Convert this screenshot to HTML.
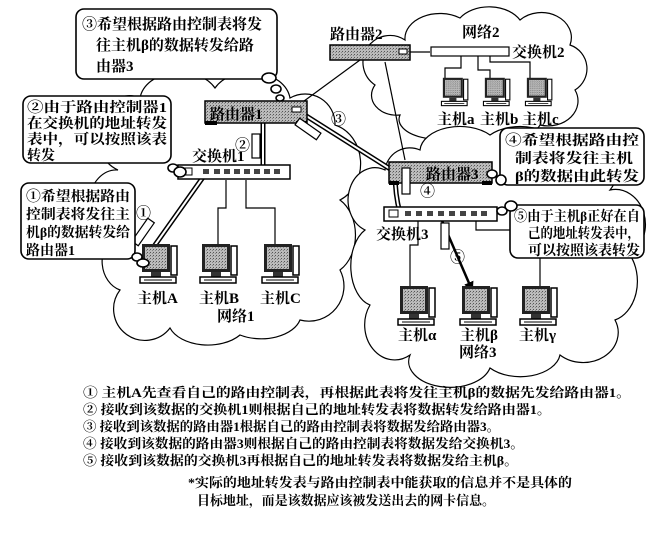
<!DOCTYPE html>
<html><head><meta charset="utf-8"><style>
html,body{margin:0;padding:0;background:#fff}
svg{display:block}
text{font-family:"Liberation Serif","Noto Serif CJK SC","Noto Sans CJK SC",serif;font-weight:bold;fill:#000}
</style></head><body>
<svg width="663" height="533" viewBox="0 0 663 533" xmlns="http://www.w3.org/2000/svg">
<defs>
<pattern id="dots" width="3" height="3" patternUnits="userSpaceOnUse"><rect width="3" height="3" fill="#bbb"/><rect width="1" height="1" fill="#555"/><rect x="2" y="1" width="1" height="1" fill="#888"/></pattern>
<symbol id="pc" viewBox="0 0 42 46" width="42" height="46">
<rect x="4" y="1" width="28" height="28" fill="#222"/>
<rect x="7" y="4" width="22" height="22" fill="url(#dots)"/>
<rect x="33" y="3" width="6" height="29" fill="#fff" stroke="#000" stroke-width="1.5"/>
<rect x="13" y="29" width="10" height="5" fill="#333"/>
<rect x="2" y="34" width="36" height="6" fill="#fff" stroke="#000" stroke-width="1.5"/>
<line x1="6" y1="37" x2="34" y2="37" stroke="#000"/>
</symbol>
<marker id="ah" markerWidth="10" markerHeight="10" refX="8" refY="5" orient="auto" markerUnits="userSpaceOnUse"><path d="M0,0 L10,5 L0,10z" fill="#000"/></marker>
</defs>

<g fill="#fff" stroke="#000" stroke-width="1.2">
<path d="M140,98 A40,30 0 0 1 215,88 A40,30 0 0 1 290,98 A30,30 0 0 1 335,125 A35,40 0 0 1 340,200 A30,40 0 0 1 340,270 A35,35 0 0 1 300,320 A40,25 0 0 1 240,335 A40,25 0 0 1 170,328 A30,30 0 0 1 120,290 A25,30 0 0 1 115,235 A25,30 0 0 1 118,170 A25,30 0 0 1 140,98Z"/>
<path d="M405,40 A35,25 0 0 1 460,18 A35,25 0 0 1 520,20 A30,25 0 0 1 570,45 A25,25 0 0 1 575,90 A30,25 0 0 1 540,125 A40,20 0 0 1 470,132 A40,20 0 0 1 400,115 A25,20 0 0 1 375,85 A25,25 0 0 1 405,40Z"/>
<path d="M420,150 A40,25 0 0 1 490,135 A40,25 0 0 1 560,150 A30,30 0 0 1 610,190 A30,35 0 0 1 630,255 A30,40 0 0 1 615,320 A35,30 0 0 1 560,355 A40,25 0 0 1 490,368 A40,25 0 0 1 410,355 A30,35 0 0 1 370,305 A25,40 0 0 1 365,230 A25,30 0 0 1 385,170 A25,25 0 0 1 420,150Z"/>
</g>

<g stroke="#000" stroke-width="1.2" fill="none">
<line x1="300" y1="104" x2="360" y2="60"/>
<line x1="385" y1="62" x2="405" y2="160"/>
<line x1="410" y1="52" x2="430" y2="52"/>
<path d="M461,56 V68 H445 V78"/><path d="M478,56 V70 H490 V78"/><path d="M490,56 V62 H530 V78"/>
<path d="M226,180 V208 H218 V246"/><path d="M246,180 V208 H275 V246"/>
<path d="M418,220 V245 H410 V286"/><path d="M476,220 V230 H540 V286"/>
</g>

<g fill="none" stroke-linecap="round" stroke-linejoin="round">
<path d="M155,245 L206,173 M263,173 V118 M300,112 L395,172 Q395,195 400,213" stroke="#000" stroke-width="5"/>
<path d="M155,245 L206,173 M263,173 V118 M300,112 L395,172 Q395,195 400,213" stroke="#fff" stroke-width="2"/>
<line x1="440" y1="216" x2="472" y2="290" stroke="#000" stroke-width="2.5" marker-end="url(#ah)"/>
</g>

<rect x="205" y="101" width="102" height="22" fill="url(#dots)" stroke="#000" stroke-width="1.5"/>
<rect x="205" y="121" width="12" height="4" fill="#000"/><rect x="296" y="121" width="11" height="4" fill="#000"/>
<rect x="292" y="107" width="9" height="5" fill="#fff" stroke="#000"/>
<text x="210" y="119" font-size="15">路由器1</text>
<rect x="178" y="165" width="112" height="14" fill="#fff" stroke="#000" stroke-width="1.5"/>
<rect x="183" y="168" width="9" height="7" fill="#fff" stroke="#000"/>
<g fill="#444"><rect x="203" y="169" width="6" height="5"/><rect x="214" y="169" width="6" height="5"/><rect x="224" y="169" width="6" height="5"/><rect x="234" y="169" width="6" height="5"/><rect x="244" y="169" width="6" height="5"/><rect x="254" y="169" width="6" height="5"/><rect x="264" y="169" width="6" height="5"/><rect x="274" y="169" width="6" height="5"/></g>
<text x="192" y="161" font-size="15">交换机1</text>

<rect x="330" y="45" width="80" height="15" fill="url(#dots)" stroke="#000" stroke-width="1.5"/>
<rect x="399" y="49" width="8" height="5" fill="#fff" stroke="#000"/>
<text x="330" y="39" font-size="15">路由器2</text>
<rect x="431" y="47" width="78" height="9" fill="#fff" stroke="#000" stroke-width="1.2"/>
<text x="512" y="57" font-size="15">交换机2</text>
<text x="462" y="37" font-size="15">网络2</text>

<rect x="389" y="162" width="103" height="21" fill="url(#dots)" stroke="#000" stroke-width="1.5"/>
<rect x="389" y="181" width="10" height="4" fill="#000"/><rect x="482" y="181" width="10" height="4" fill="#000"/>
<text x="426" y="179" font-size="15">路由器3</text>
<rect x="384" y="207" width="113" height="14" fill="#fff" stroke="#000" stroke-width="1.5"/>
<rect x="389" y="210" width="9" height="7" fill="#fff" stroke="#000"/>
<g fill="#444"><rect x="405" y="211" width="6" height="5"/><rect x="416" y="211" width="6" height="5"/><rect x="427" y="211" width="6" height="5"/><rect x="438" y="211" width="6" height="5"/><rect x="449" y="211" width="6" height="5"/><rect x="460" y="211" width="6" height="5"/><rect x="471" y="211" width="6" height="5"/><rect x="481" y="211" width="6" height="5"/></g>
<text x="376" y="239" font-size="15">交换机3</text>

<g fill="#fff" stroke="#000" stroke-width="1.2">
<rect x="139" y="218" width="8" height="28" transform="rotate(35 143 232)"/>
<rect x="252" y="134" width="8" height="24"/>
<rect x="304" y="116" width="8" height="26" transform="rotate(-55 308 129)"/>
<rect x="402" y="168" width="8" height="26"/>
<rect x="441" y="223" width="8" height="26"/>
</g>
<g font-size="15" font-weight="normal">
<text x="136" y="218">①</text>
<text x="235" y="150">②</text>
<text x="331" y="124">③</text>
<text x="420" y="196">④</text>
<text x="450" y="262">⑤</text>
</g>

<use href="#pc" x="138" y="243"/><use href="#pc" x="198" y="243"/><use href="#pc" x="260" y="243"/>
<use href="#pc" x="440" y="77" width="30" height="33"/><use href="#pc" x="482" y="77" width="30" height="33"/><use href="#pc" x="524" y="77" width="30" height="33"/>
<use href="#pc" x="396" y="285"/><use href="#pc" x="458" y="285"/><use href="#pc" x="518" y="285"/>
<g font-size="15">
<text x="137" y="303">主机A</text><text x="199" y="303">主机B</text><text x="260" y="303">主机C</text>
<text x="217" y="321">网络1</text>
<text x="437" y="124">主机a</text><text x="480" y="124">主机b</text><text x="522" y="124">主机c</text>
<text x="398" y="340">主机α</text><text x="460" y="340">主机β</text><text x="519" y="340">主机γ</text>
<text x="459" y="357">网络3</text>
</g>

<g fill="#fff" stroke="#000" stroke-width="1.6">
<rect x="76" y="9" width="201" height="70" rx="8"/>
<ellipse cx="269" cy="78" rx="7" ry="5"/><ellipse cx="276" cy="89" rx="5" ry="4"/><ellipse cx="280" cy="98" rx="4" ry="3"/>
<rect x="23" y="96" width="148" height="67" rx="8"/>
<ellipse cx="173" cy="168" rx="5" ry="4"/><ellipse cx="180" cy="172" rx="6" ry="5"/>
<rect x="21" y="183" width="114" height="76" rx="8"/>
<ellipse cx="137" cy="257" rx="5" ry="4"/><ellipse cx="143" cy="263" rx="6" ry="4"/>
<rect x="500" y="128" width="144" height="57" rx="8"/>
<ellipse cx="492" cy="174" rx="5" ry="4"/><ellipse cx="501" cy="180" rx="5" ry="5"/>
<rect x="510" y="205" width="134" height="53" rx="8"/>
<ellipse cx="502" cy="211" rx="5" ry="4"/><ellipse cx="511" cy="206" rx="6" ry="5"/>
</g>
<g font-size="15">
<text x="82" y="29">③希望根据路由控制表将发</text>
<text x="96" y="50">往主机β的数据转发给路</text>
<text x="96" y="71">由器3</text>
</g>
<g font-size="14">
<text x="27" y="112" textLength="140" lengthAdjust="spacingAndGlyphs">②由于路由控制器1</text>
<text x="27" y="128" textLength="140" lengthAdjust="spacingAndGlyphs">在交换机的地址转发</text>
<text x="27" y="144" textLength="140" lengthAdjust="spacingAndGlyphs">表中，可以按照该表</text>
<text x="27" y="160">转发</text>
<text x="26" y="201" textLength="104" lengthAdjust="spacingAndGlyphs">①希望根据路由</text>
<text x="26" y="219" textLength="104" lengthAdjust="spacingAndGlyphs">控制表将发往主</text>
<text x="26" y="237" textLength="104" lengthAdjust="spacingAndGlyphs">机β的数据转发给</text>
<text x="26" y="255">路由器1</text>
<text x="505" y="145" textLength="134" lengthAdjust="spacingAndGlyphs">④希望根据路由控</text>
<text x="515" y="163" textLength="118" lengthAdjust="spacingAndGlyphs">制表将发往主机</text>
<text x="515" y="181" textLength="124" lengthAdjust="spacingAndGlyphs">β的数据由此转发</text>
<text x="514" y="221" textLength="126" lengthAdjust="spacingAndGlyphs">⑤由于主机β正好在自</text>
<text x="528" y="238" textLength="112" lengthAdjust="spacingAndGlyphs">己的地址转发表中，</text>
<text x="528" y="255" textLength="112" lengthAdjust="spacingAndGlyphs">可以按照该表转发</text>
</g>

<g font-size="13">
<text x="83" y="397" textLength="548" lengthAdjust="spacingAndGlyphs">① 主机A先查看自己的路由控制表，再根据此表将发往主机β的数据先发给路由器1。</text>
<text x="83" y="414" textLength="468" lengthAdjust="spacingAndGlyphs">② 接收到该数据的交换机1则根据自己的地址转发表将数据转发给路由器1。</text>
<text x="83" y="431" textLength="417" lengthAdjust="spacingAndGlyphs">③ 接收到该数据的路由器1根据自己的路由控制表将数据发给路由器3。</text>
<text x="83" y="448" textLength="441" lengthAdjust="spacingAndGlyphs">④ 接收到该数据的路由器3则根据自己的路由控制表将数据发给交换机3。</text>
<text x="83" y="465" textLength="435" lengthAdjust="spacingAndGlyphs">⑤ 接收到该数据的交换机3再根据自己的地址转发表将数据发给主机β。</text>
<text x="188" y="487" textLength="384" lengthAdjust="spacingAndGlyphs">*实际的地址转发表与路由控制表中能获取的信息并不是具体的</text>
<text x="197" y="505" textLength="298" lengthAdjust="spacingAndGlyphs">目标地址，而是该数据应该被发送出去的网卡信息。</text>
</g>
</svg>
</body></html>
